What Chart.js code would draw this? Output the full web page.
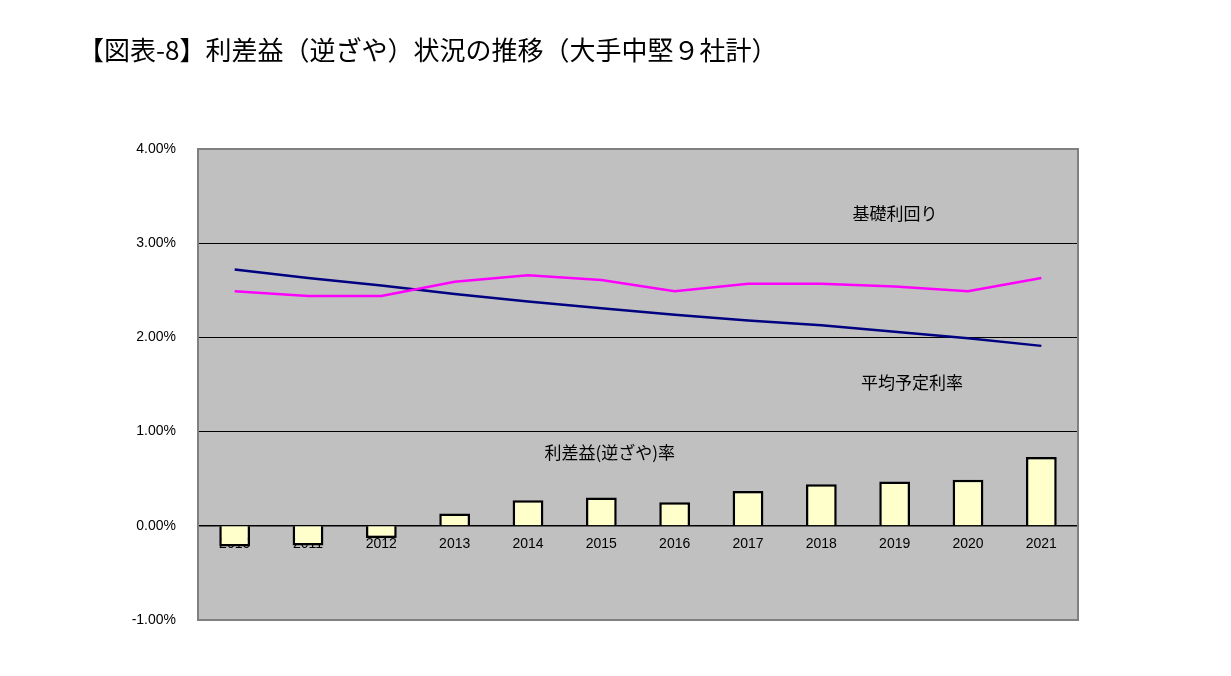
<!DOCTYPE html>
<html><head><meta charset="utf-8">
<script src="https://cdn.jsdelivr.net/npm/chart.js@4"></script>
<style>body{margin:0;background:#fff;overflow:hidden}#t{position:absolute;left:78px;top:30px;font:26px "Noto Sans CJK JP";color:#000}#w{width:1231px;height:676px}</style>
</head><body>
<div id="t">【図表-8】利差益（逆ざや）状況の推移（大手中堅９社計）</div>
<div id="w"><canvas id="c"></canvas></div>
<script>
const years=['2010','2011','2012','2013','2014','2015','2016','2017','2018','2019','2020','2021'];
const kisoRimawari=[2.49,2.44,2.44,2.59,2.66,2.61,2.49,2.57,2.57,2.54,2.49,2.63];
const yoteiRiritsu=[2.72,2.63,2.55,2.46,2.38,2.31,2.24,2.18,2.13,2.06,1.99,1.91];
const risaeki=[-0.22,-0.21,-0.13,0.13,0.27,0.30,0.25,0.37,0.44,0.47,0.49,0.73];
const seriesLabels=['基礎利回り','平均予定利率','利差益(逆ざや)率'];
const bg={id:'bg',beforeDraw(c){const a=c.chartArea,x=c.ctx;x.save();x.fillStyle='#c0c0c0';x.fillRect(a.left,a.top,a.right-a.left,a.bottom-a.top);x.restore();},
afterDraw(c){const a=c.chartArea,x=c.ctx;x.save();x.strokeStyle='#808080';x.lineWidth=2;x.strokeRect(a.left,a.top,a.right-a.left,a.bottom-a.top);
x.fillStyle='#000';x.font='17px "Noto Sans CJK JP"';x.textAlign='center';x.textBaseline='middle';
const X=c.scales.x,Y=c.scales.y;
x.fillText(seriesLabels[0],(X.getPixelForValue(8)+X.getPixelForValue(9))/2+37,Y.getPixelForValue(3.32));
x.fillText(seriesLabels[1],(X.getPixelForValue(8)+X.getPixelForValue(9))/2+54,Y.getPixelForValue(1.52));
x.fillText(seriesLabels[2],(X.getPixelForValue(4)+X.getPixelForValue(5))/2+45,Y.getPixelForValue(0.78));
x.restore();}};
new Chart(document.getElementById('c'),{data:{labels:years,datasets:[
{type:'line',data:kisoRimawari,borderColor:'#ff00ff',borderWidth:2.5,pointRadius:0,tension:0,order:1},
{type:'line',data:yoteiRiritsu,borderColor:'#000080',borderWidth:2.5,pointRadius:0,tension:0,order:1},
{type:'bar',data:risaeki,backgroundColor:'#ffffcc',borderColor:'#000',borderWidth:2.5,barPercentage:0.42,categoryPercentage:1,order:2}]},
options:{responsive:true,maintainAspectRatio:false,animation:false,layout:{padding:{left:0,top:149,right:153,bottom:56}},
plugins:{legend:{display:false},tooltip:{enabled:false}},
scales:{x:{position:{y:0},offset:true,grid:{display:false,drawTicks:true},border:{color:'#000',width:1.5},ticks:{color:'#000',font:{family:'Liberation Sans',size:14},padding:2}},
y:{min:-1,max:4,afterFit(s){s.width=198;},border:{display:false},grid:{color:'#000',lineWidth:1,drawTicks:false},
ticks:{stepSize:1,color:'#000',padding:22,font:{family:'Liberation Sans',size:14},callback:v=>v.toFixed(2)+'%'}}}},
plugins:[bg]});
</script></body></html>
